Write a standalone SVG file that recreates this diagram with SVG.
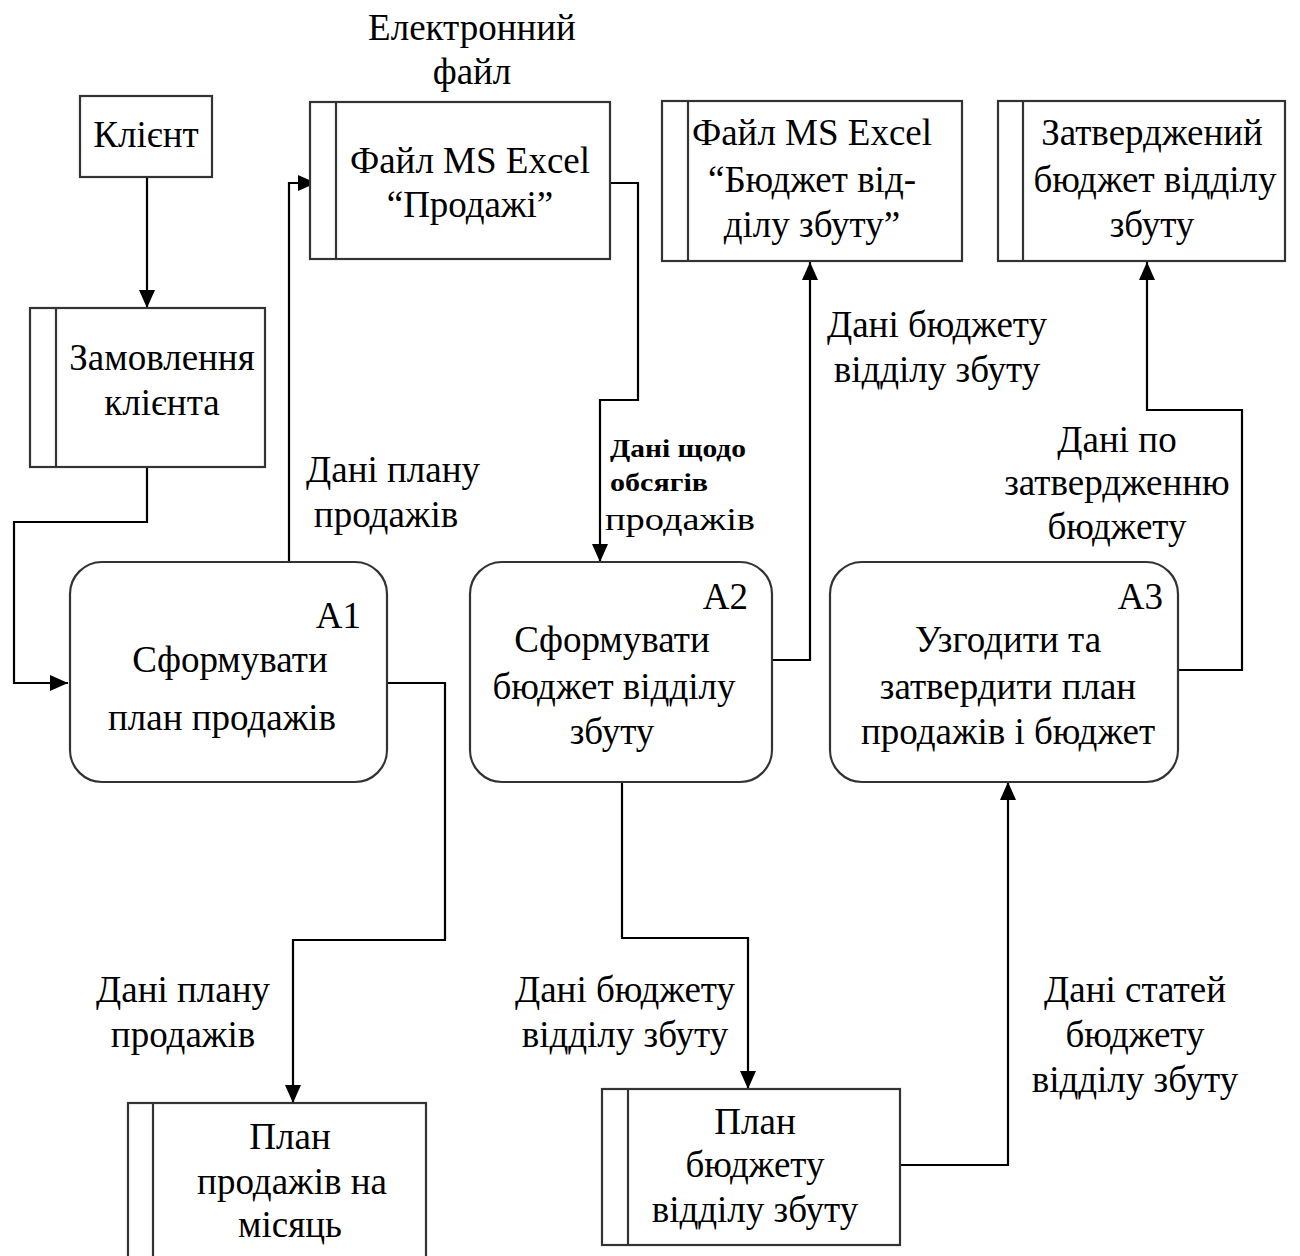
<svg xmlns="http://www.w3.org/2000/svg" width="1300" height="1256" viewBox="0 0 1300 1256">
<defs>
<marker id="ah" markerWidth="18" markerHeight="16" refX="18" refY="8" orient="auto" markerUnits="userSpaceOnUse">
<path d="M0,0 L18,8 L0,16 Z" fill="#000"/>
</marker>
<style>
text{font-family:"Liberation Serif","Times New Roman",serif;font-size:37px;fill:#000;text-anchor:middle}
.box{fill:#fff;stroke:#333;stroke-width:2.2}
.conn{fill:none;stroke:#000;stroke-width:2.2}
.sm{font-size:26px;font-weight:bold;text-anchor:start}
.st{text-anchor:start}
.en{text-anchor:end}
</style>
</defs>
<rect width="1300" height="1256" fill="#fff"/>

<g id="connectors">
<path class="conn" d="M147,177 V308" marker-end="url(#ah)"/>
<path class="conn" d="M147,467 V522 H14 V683 H68" marker-end="url(#ah)"/>
<path class="conn" d="M289,562 V183 H316" marker-end="url(#ah)"/>
<path class="conn" d="M610,183 H638 V400 H600 V562" marker-end="url(#ah)"/>
<path class="conn" d="M772,660 H810 V262" marker-end="url(#ah)"/>
<path class="conn" d="M1178,670 H1242 V410 H1147 V262" marker-end="url(#ah)"/>
<path class="conn" d="M387,683 H445 V940 H293 V1103" marker-end="url(#ah)"/>
<path class="conn" d="M622,782 V938 H748 V1089" marker-end="url(#ah)"/>
<path class="conn" d="M900,1165 H1008 V782" marker-end="url(#ah)"/>
</g>

<g id="client">
<rect class="box" x="80" y="96" width="132" height="81"/>
<text x="146" y="147">Клієнт</text>
</g>

<g id="order">
<rect class="box" x="30" y="308" width="235" height="159"/>
<line class="box" x1="56" y1="308" x2="56" y2="467"/>
<text x="162" y="370">Замовлення</text>
<text x="162" y="415">клієнта</text>
</g>

<g id="efile-label">
<text x="472" y="40">Електронний</text>
<text x="472" y="84">файл</text>
</g>

<g id="sales-file">
<rect class="box" x="310" y="102" width="300" height="157"/>
<line class="box" x1="336" y1="102" x2="336" y2="259"/>
<text x="470" y="173">Файл MS Excel</text>
<text x="470" y="217">“Продажі”</text>
</g>

<g id="budget-file">
<rect class="box" x="662" y="101" width="300" height="160"/>
<line class="box" x1="688" y1="101" x2="688" y2="261"/>
<text x="812" y="145">Файл MS Excel</text>
<text x="812" y="192">“Бюджет від-</text>
<text x="812" y="237">ділу збуту”</text>
</g>

<g id="approved-budget">
<rect class="box" x="998" y="101" width="287" height="160"/>
<line class="box" x1="1023" y1="101" x2="1023" y2="261"/>
<text x="1152" y="145">Затверджений</text>
<text x="1155" y="192">бюджет відділу</text>
<text x="1152" y="237">збуту</text>
</g>

<g id="A1">
<rect class="box" x="70" y="562" width="317" height="220" rx="32"/>
<text class="en" x="361" y="628">A1</text>
<text x="230" y="672">Сформувати</text>
<text x="222" y="730">план продажів</text>
</g>

<g id="A2">
<rect class="box" x="470" y="562" width="302" height="220" rx="32"/>
<text class="en" x="748" y="609">A2</text>
<text x="612" y="652">Сформувати</text>
<text x="614" y="699">бюджет відділу</text>
<text x="612" y="744">збуту</text>
</g>

<g id="A3">
<rect class="box" x="830" y="562" width="348" height="220" rx="32"/>
<text class="en" x="1163" y="609">A3</text>
<text x="1008" y="652">Узгодити та</text>
<text x="1008" y="699">затвердити план</text>
<text x="1008" y="744">продажів і бюджет</text>
</g>

<g id="sales-plan">
<rect class="box" x="128" y="1103" width="298" height="170"/>
<line class="box" x1="153" y1="1103" x2="153" y2="1273"/>
<text x="290" y="1149">План</text>
<text x="292" y="1194">продажів на</text>
<text x="290" y="1237">місяць</text>
</g>

<g id="budget-plan">
<rect class="box" x="602" y="1089" width="298" height="156"/>
<line class="box" x1="628" y1="1089" x2="628" y2="1245"/>
<text x="755" y="1134">План</text>
<text x="755" y="1177">бюджету</text>
<text x="755" y="1222">відділу збуту</text>
</g>

<g id="labels">
<text x="393" y="482">Дані плану</text>
<text x="386" y="527">продажів</text>
<text class="sm" x="610" y="457" textLength="136" lengthAdjust="spacingAndGlyphs">Дані щодо</text>
<text class="sm" x="610" y="491" textLength="98" lengthAdjust="spacingAndGlyphs">обсягів</text>
<text class="st" x="605" y="530" style="font-size:31px" textLength="150" lengthAdjust="spacingAndGlyphs">продажів</text>
<text x="937" y="337">Дані бюджету</text>
<text x="937" y="382">відділу збуту</text>
<text x="1117" y="452">Дані по</text>
<text x="1117" y="495">затвердженню</text>
<text x="1117" y="539">бюджету</text>
<text x="183" y="1002">Дані плану</text>
<text x="183" y="1047">продажів</text>
<text x="625" y="1002">Дані бюджету</text>
<text x="625" y="1047">відділу збуту</text>
<text x="1135" y="1002">Дані статей</text>
<text x="1135" y="1047">бюджету</text>
<text x="1135" y="1092">відділу збуту</text>
</g>
</svg>
